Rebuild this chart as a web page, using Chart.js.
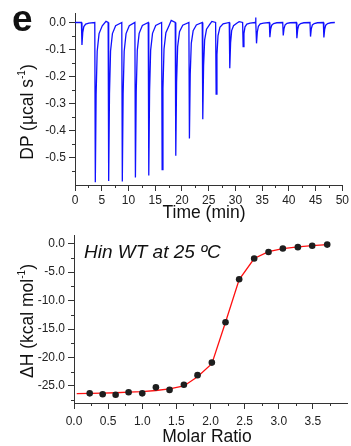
<!DOCTYPE html>
<html>
<head>
<meta charset="utf-8">
<title>ITC Hin WT</title>
<script src="https://cdn.jsdelivr.net/npm/chart.js@4.4.1/dist/chart.umd.min.js"></script>
<style>
  body { margin: 0; width: 351px; height: 446px; background: #fff; position: relative; overflow: hidden;
         font-family: "Liberation Sans", Arial, sans-serif; color: #111; }
  canvas { position: absolute; left: 0; }
  #rawChart { top: 0; }
  #heatChart { top: 225px; }
  .lbl { position: absolute; white-space: nowrap; line-height: 1; }
  .ttl { font-size: 17.5px; transform: translate(-50%, -50%); }
  .rot { transform: translate(-50%, -50%) rotate(-90deg); }
  sup { font-size: 10px; vertical-align: 8px; line-height: 0; }
</style>
</head>
<body>
<canvas id="rawChart" width="351" height="225"></canvas>
<canvas id="heatChart" width="351" height="221"></canvas>

<div class="lbl" style="left:12px; top:0px; font-size:37px; font-weight:bold;">e</div>
<div class="lbl ttl rot" style="left:28px; top:112px;">DP (µcal s<sup>-1</sup>)</div>
<div class="lbl ttl" style="left:204px; top:213px;">Time (min)</div>
<div class="lbl ttl rot" style="left:28px; top:321px;">ΔH (kcal mol<sup>-1</sup>)</div>
<div class="lbl ttl" style="left:207px; top:437px;">Molar Ratio</div>
<div class="lbl" style="left:84px; top:242px; font-size:19px; font-style:italic;">Hin WT at 25 ºC</div>

<script>
// raw thermogram: time (min) and DP (ucal/s)
const rawTime = [0, 1.2, 1.3, 1.45, 1.65, 2.0, 2.6,
  3.7, 3.8, 3.95, 4.15, 4.5, 5.1, 5.8,
  6.2, 6.3, 6.45, 6.65, 7.0, 7.6,
  8.75, 8.85, 9.0, 9.2, 9.55, 10.15,
  11.2, 11.3, 11.45, 11.65, 12.0, 12.6,
  13.7, 13.8, 13.95, 14.15, 14.5, 15.1,
  16.2, 16.3, 16.45, 16.65, 17.0, 17.6, 18.0,
  18.75, 18.85, 19.0, 19.2, 19.55, 20.15,
  21.3, 21.4, 21.55, 21.75, 22.1, 22.7,
  23.8, 23.9, 24.05, 24.25, 24.6, 25.2, 25.6,
  26.3, 26.4, 26.55, 26.75, 27.1, 27.7,
  28.85, 28.95, 29.1, 29.3, 29.65, 30.25, 30.7,
  31.35, 31.45, 31.6, 31.8, 32.15, 32.75,
  33.7, 33.78, 33.85, 33.95, 34.1, 34.3, 34.65, 35.25,
  36.35, 36.45, 36.6, 36.8, 37.15, 37.75,
  38.85, 38.95, 39.1, 39.3, 39.65, 40.25,
  41.4, 41.5, 41.65, 41.85, 42.2, 42.8,
  43.95, 44.05, 44.2, 44.4, 44.75, 45.35,
  46.45, 46.55, 46.7, 46.9, 47.25, 47.85,
  48.6];
const rawDP = [0, 0, -0.083, -0.037, -0.015, -0.006, -0.002,
  0, -0.59, -0.266, -0.106, -0.041, -0.012, 0.004,
  0, -0.585, -0.263, -0.105, -0.041, -0.012,
  0, -0.587, -0.264, -0.106, -0.041, -0.012,
  0, -0.572, -0.257, -0.103, -0.04, -0.011,
  0, -0.565, -0.254, -0.102, -0.04, -0.011,
  0, -0.543, -0.244, -0.098, -0.038, -0.011, 0.008,
  0, -0.492, -0.221, -0.089, -0.034, -0.01,
  0, -0.428, -0.193, -0.077, -0.03, -0.009,
  0, -0.357, -0.161, -0.064, -0.025, -0.007, 0.004,
  0, -0.264, -0.119, -0.048, -0.018, -0.005,
  0, -0.169, -0.076, -0.03, -0.012, -0.003, 0.003,
  0, -0.089, -0.04, -0.016, -0.006, -0.002,
  0, 0.018, 0, -0.077, -0.035, -0.014, -0.005, -0.002,
  0, -0.054, -0.024, -0.01, -0.004, -0.001,
  0, -0.048, -0.022, -0.009, -0.003, -0.001,
  0, -0.058, -0.026, -0.01, -0.004, -0.001,
  0, -0.052, -0.023, -0.009, -0.004, -0.001,
  0, -0.055, -0.025, -0.01, -0.004, -0.001,
  0];

// integrated heats
const molarRatio = [0.23, 0.42, 0.61, 0.80, 1.00, 1.20, 1.40, 1.61, 1.81, 2.02, 2.22, 2.42, 2.64, 2.85, 3.06, 3.28, 3.49, 3.71];
const deltaH = [-26.3, -26.45, -26.55, -26.1, -26.3, -25.25, -25.7, -24.8, -23.1, -20.9, -13.8, -6.25, -2.6, -1.45, -0.85, -0.6, -0.35, -0.15];

// fitted curve
const fitRatio = [0.04, 0.23, 0.42, 0.61, 0.80, 1.00, 1.20, 1.40, 1.61, 1.81, 2.02, 2.22, 2.42, 2.64, 2.85, 3.06, 3.28, 3.49, 3.71];
const fitDH = [-26.35, -26.3, -26.25, -26.2, -26.1, -26.0, -25.8, -25.5, -25.0, -23.4, -21.1, -13.8, -6.3, -2.6, -1.4, -0.85, -0.55, -0.35, -0.15];

// axis ticks
const timeTicks = [0, 5, 10, 15, 20, 25, 30, 35, 40, 45, 50];
const timeMinor = [2.5, 7.5, 12.5, 17.5, 22.5, 27.5, 32.5, 37.5, 42.5, 47.5];
const dpTicks = [0, -0.1, -0.2, -0.3, -0.4, -0.5];
const dpMinor = [-0.05, -0.15, -0.25, -0.35, -0.45, -0.55];
const ratioTicks = [0, 0.5, 1.0, 1.5, 2.0, 2.5, 3.0, 3.5];
const ratioMinor = [0.25, 0.75, 1.25, 1.75, 2.25, 2.75, 3.25, 3.75];
const dhTicks = [0, -5, -10, -15, -20, -25];
const dhMinor = [-2.5, -7.5, -12.5, -17.5, -22.5, -27.5];

const axisColor = '#333';
const tickFont = { family: '"Liberation Sans", Arial, sans-serif', size: 12 };

// short ticks between the labelled ones
function minorTickPlugin(minor) {
    return {
        id: 'minorTicks',
        afterDraw(chart) {
            const ctx = chart.ctx;
            ctx.save();
            ctx.strokeStyle = axisColor;
            ctx.lineWidth = 1;
            Object.keys(minor).forEach(function (id) {
                const scale = chart.scales[id];
                minor[id].forEach(function (v) {
                    const p = Math.round(scale.getPixelForValue(v)) + 0.5;
                    ctx.beginPath();
                    if (scale.isHorizontal()) {
                        ctx.moveTo(p, scale.top);
                        ctx.lineTo(p, scale.top + 3);
                    } else {
                        ctx.moveTo(scale.right, p);
                        ctx.lineTo(scale.right - 3, p);
                    }
                    ctx.stroke();
                });
            });
            ctx.restore();
        }
    };
}

function axis(min, max, ticks, digits, size, pad) {
    return {
        type: 'linear',
        min: min,
        max: max,
        afterBuildTicks: function (scale) {
            scale.ticks = ticks.map(function (v) { return { value: v }; });
        },
        afterFit: function (scale) {
            if (scale.isHorizontal()) scale.height = size;
            else scale.width = size;
        },
        border: { display: true, color: axisColor, width: 1 },
        grid: { drawOnChartArea: false, drawTicks: true, tickLength: 6, color: axisColor },
        ticks: {
            color: '#222',
            font: tickFont,
            padding: pad,
            maxRotation: 0,
            autoSkip: false,
            callback: function (v) { return digits ? Number(v).toFixed(digits) : String(v); }
        }
    };
}

function initRawChart() {
    const ctx = document.getElementById('rawChart').getContext('2d');
    new Chart(ctx, {
        type: 'line',
        data: {
            datasets: [{
                data: rawTime.map(function (t, i) { return { x: t, y: rawDP[i] }; }),
                borderColor: '#1010ff',
                borderWidth: 1.3,
                pointRadius: 0,
                tension: 0,
                fill: false
            }]
        },
        options: {
            responsive: false,
            animation: false,
            layout: { padding: { top: 13, right: 7, left: 0, bottom: 0 } },
            plugins: { legend: { display: false }, tooltip: { enabled: false } },
            scales: {
                x: axis(0, 50, timeTicks, 0, 40, 2),
                y: axis(-0.6, 0.035, dpTicks, 1, 75, 3)
            }
        },
        plugins: [minorTickPlugin({ x: timeMinor, y: dpMinor })]
    });
}

function initHeatChart() {
    const ctx = document.getElementById('heatChart').getContext('2d');
    new Chart(ctx, {
        type: 'line',
        data: {
            datasets: [{
                data: molarRatio.map(function (r, i) { return { x: r, y: deltaH[i] }; }),
                showLine: false,
                pointRadius: 3.3,
                pointBackgroundColor: '#1e1e1e',
                pointBorderColor: '#1e1e1e',
                pointBorderWidth: 0,
                order: 0
            }, {
                data: fitRatio.map(function (r, i) { return { x: r, y: fitDH[i] }; }),
                borderColor: '#ff1010',
                borderWidth: 1.3,
                pointRadius: 0,
                tension: 0,
                fill: false,
                order: 1
            }]
        },
        options: {
            responsive: false,
            animation: false,
            layout: { padding: { top: 6, right: 0, left: 0, bottom: 0 } },
            plugins: { legend: { display: false }, tooltip: { enabled: false } },
            scales: {
                x: axis(0, 4, ratioTicks, 1, 43, 5),
                y: axis(-28, 1.5, dhTicks, 1, 74, 3)
            }
        },
        plugins: [minorTickPlugin({ x: ratioMinor, y: dhMinor })]
    });
}

window.onload = () => {
    initRawChart();
    initHeatChart();
};
</script>
</body>
</html>
